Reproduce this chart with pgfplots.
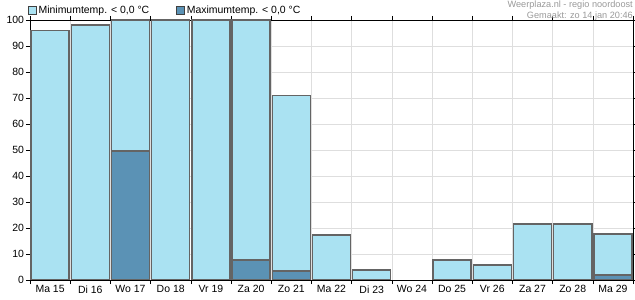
\documentclass[border=0pt]{standalone}
\usepackage{pgfplots}
\pgfplotsset{compat=1.18}
\usepackage{fontspec}
\setmainfont{Liberation Sans}
\definecolor{minc}{RGB}{170,226,242}
\definecolor{maxc}{RGB}{91,146,181}
\definecolor{edgec}{RGB}{100,100,100}
\definecolor{gridc}{RGB}{222,222,222}
\begin{document}
\begin{tikzpicture}
\path[use as bounding box] (0,0) rectangle (635bp,300bp);
\begin{axis}[
  at={(30bp,20bp)}, anchor=south west,
  scale only axis, width=603bp, height=260bp,
  xmin=-0.5, xmax=14.5, ymin=0, ymax=100,
  xtick={0,...,14},
  xticklabels={Ma 15,Di 16,Wo 17,Do 18,Vr 19,Za 20,Zo 21,Ma 22,Di 23,Wo 24,Do 25,Vr 26,Za 27,Zo 28,Ma 29},
  minor xtick={-0.5,0.5,...,14.5},
  ytick={0,10,...,100},
  major x tick style={draw=none},
  tick align=outside,
  major tick length=4bp, minor tick length=4bp,
  tick style={black, line width=0.6bp},
  xminorgrids=true, ymajorgrids=true,
  grid style={gridc, line width=0.6bp},
  minor grid style={gridc, line width=0.6bp},
  axis line style={black, line width=0.8bp},
  font=\fontsize{10.5}{12}\selectfont,
  /pgf/number format/assume math mode=true,
  xticklabel style={yshift=2bp},
  yticklabel style={xshift=1.5bp},
  ybar, bar shift=0pt, bar width=0.95,
  legend columns=2,
  legend style={at={(axis description cs:0,1)}, anchor=south west, draw=none, fill=none,
    font=\fontsize{10.5}{12}\selectfont, inner sep=0pt, outer sep=0pt, yshift=3bp, xshift=-2bp,
    /tikz/every even column/.append style={column sep=25bp}},
  legend cell align=left,
  legend image code/.code={\draw[#1, draw=black!75, line width=0.6bp] (0bp,-4bp) rectangle (8bp,4bp);},
]
\addplot[fill=minc, draw=edgec, line width=1.4bp] coordinates {
(0,96) (1,98) (2,100) (3,100) (4,100) (5,100) (6,71) (7,17.3) (8,3.8) (10,7.7) (11,5.8) (12,21.5) (13,21.5) (14,17.7)};
\addlegendentry{Minimumtemp. < 0,0 °C}
\addplot[fill=maxc, draw=edgec, line width=1.4bp] coordinates {
(2,49.6) (5,7.7) (6,3.5) (14,1.9)};
\addlegendentry{Maximumtemp. < 0,0 °C}
\end{axis}
\node[anchor=north east, text=black!40, font=\fontsize{9.2}{11}\selectfont, align=right, inner sep=0pt] at (633bp,299.5bp) {Weerplaza.nl - regio noordoost\\Gemaakt: zo 14 jan 20:46};
\end{tikzpicture}
\end{document}
